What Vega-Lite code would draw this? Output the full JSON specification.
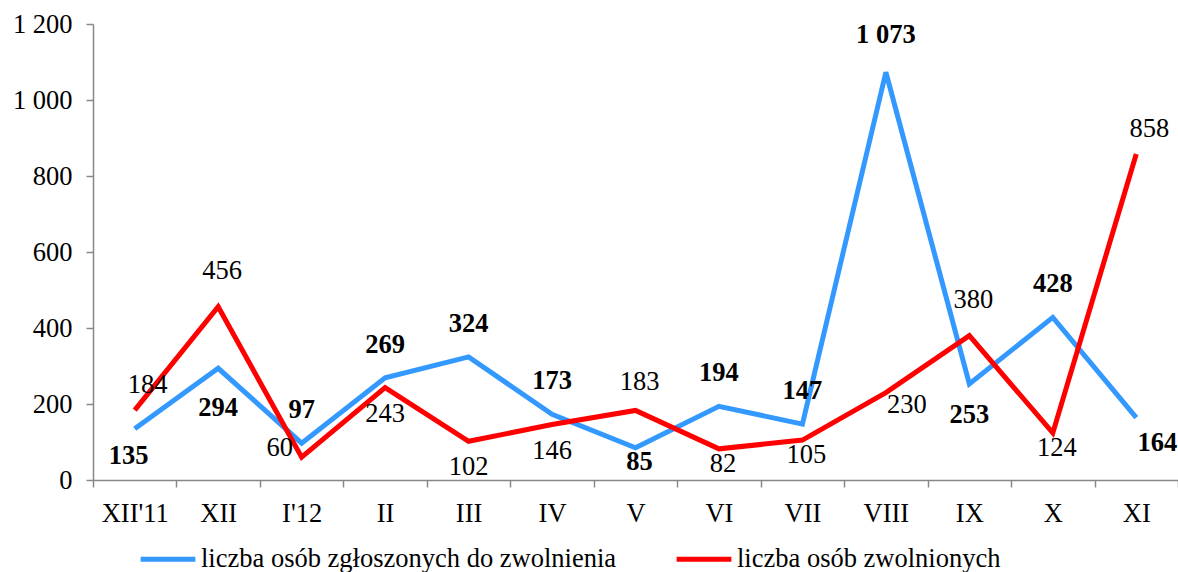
{
  "$schema": "https://vega.github.io/schema/vega-lite/v6.json",
  "width": 1085,
  "height": 456,
  "autosize": {"type": "none"},
  "padding": {"left": 93, "top": 24, "right": 0, "bottom": 92},
  "background": "white",
  "config": {
    "locale": {"number": {"decimal": ",", "thousands": " ", "grouping": [3], "currency": ["", " zł"]}},
    "font": "Liberation Serif",
    "view": {"stroke": null},
    "axis": {"labelFont": "Liberation Serif", "labelFontSize": 26.5, "labelColor": "black", "domainColor": "#888888", "tickColor": "#888888", "domainWidth": 1.5, "tickWidth": 1.5, "tickSize": 7, "grid": false, "title": null},
    "text": {"font": "Liberation Serif", "fontSize": 26.5, "color": "black"}
  },
  "data": {"values": [
    {"m": "XII'11", "s": "liczba osób zgłoszonych do zwolnienia", "v": 135},
    {"m": "XII", "s": "liczba osób zgłoszonych do zwolnienia", "v": 294},
    {"m": "I'12", "s": "liczba osób zgłoszonych do zwolnienia", "v": 97},
    {"m": "II", "s": "liczba osób zgłoszonych do zwolnienia", "v": 269},
    {"m": "III", "s": "liczba osób zgłoszonych do zwolnienia", "v": 324},
    {"m": "IV", "s": "liczba osób zgłoszonych do zwolnienia", "v": 173},
    {"m": "V", "s": "liczba osób zgłoszonych do zwolnienia", "v": 85},
    {"m": "VI", "s": "liczba osób zgłoszonych do zwolnienia", "v": 194},
    {"m": "VII", "s": "liczba osób zgłoszonych do zwolnienia", "v": 147},
    {"m": "VIII", "s": "liczba osób zgłoszonych do zwolnienia", "v": 1073},
    {"m": "IX", "s": "liczba osób zgłoszonych do zwolnienia", "v": 253},
    {"m": "X", "s": "liczba osób zgłoszonych do zwolnienia", "v": 428},
    {"m": "XI", "s": "liczba osób zgłoszonych do zwolnienia", "v": 164},
    {"m": "XII'11", "s": "liczba osób zwolnionych", "v": 184},
    {"m": "XII", "s": "liczba osób zwolnionych", "v": 456},
    {"m": "I'12", "s": "liczba osób zwolnionych", "v": 60},
    {"m": "II", "s": "liczba osób zwolnionych", "v": 243},
    {"m": "III", "s": "liczba osób zwolnionych", "v": 102},
    {"m": "IV", "s": "liczba osób zwolnionych", "v": 146},
    {"m": "V", "s": "liczba osób zwolnionych", "v": 183},
    {"m": "VI", "s": "liczba osób zwolnionych", "v": 82},
    {"m": "VII", "s": "liczba osób zwolnionych", "v": 105},
    {"m": "VIII", "s": "liczba osób zwolnionych", "v": 230},
    {"m": "IX", "s": "liczba osób zwolnionych", "v": 380},
    {"m": "X", "s": "liczba osób zwolnionych", "v": 124},
    {"m": "XI", "s": "liczba osób zwolnionych", "v": 858}
  ]},
  "encoding": {
    "x": {"field": "m", "type": "nominal",
      "sort": ["XII'11", "XII", "I'12", "II", "III", "IV", "V", "VI", "VII", "VIII", "IX", "X", "XI"],
      "scale": {"type": "band", "paddingInner": 0, "paddingOuter": 0},
      "axis": {"labelAngle": 0, "tickBand": "extent", "labelPadding": 13}},
    "y": {"field": "v", "type": "quantitative",
      "scale": {"domain": [0, 1200], "nice": false},
      "axis": {"values": [0, 200, 400, 600, 800, 1000, 1200], "format": ",d", "labelPadding": 14}},
    "text": {"field": "v", "type": "quantitative", "format": ",d"}
  },
  "layer": [
    {
      "mark": {"type": "line", "strokeWidth": 5, "strokeJoin": "miter"},
      "encoding": {
        "text": null,
        "color": {"field": "s", "type": "nominal",
          "scale": {"domain": ["liczba osób zgłoszonych do zwolnienia", "liczba osób zwolnionych"], "range": ["#3399FF", "#FF0000"]},
          "legend": {"title": null, "orient": "none", "legendX": 45, "legendY": 505, "direction": "horizontal", "columns": 2, "columnPadding": 49,
            "symbolType": "stroke", "symbolSize": 3000, "symbolStrokeWidth": 5, "labelFont": "Liberation Serif", "labelFontSize": 26.5, "labelColor": "black", "labelLimit": 700, "labelOffset": 3}}
      }
    },
    {
      "transform": [{"filter": {"and": [{"field": "s", "equal": "liczba osób zgłoszonych do zwolnienia"}, {"field": "m", "oneOf": ["I'12", "II", "III", "IV", "VI", "VII", "X"]}]}}],
      "mark": {"type": "text", "fontWeight": "bold", "dy": -33}
    },
    {
      "transform": [{"filter": {"and": [{"field": "s", "equal": "liczba osób zgłoszonych do zwolnienia"}, {"field": "m", "oneOf": ["VIII"]}]}}],
      "mark": {"type": "text", "fontWeight": "bold", "dy": -37}
    },
    {
      "transform": [{"filter": {"and": [{"field": "s", "equal": "liczba osób zgłoszonych do zwolnienia"}, {"field": "m", "oneOf": ["XII'11"]}]}}],
      "mark": {"type": "text", "fontWeight": "bold", "dy": 27, "dx": -6}
    },
    {
      "transform": [{"filter": {"and": [{"field": "s", "equal": "liczba osób zgłoszonych do zwolnienia"}, {"field": "m", "oneOf": ["XII"]}]}}],
      "mark": {"type": "text", "fontWeight": "bold", "dy": 40}
    },
    {
      "transform": [{"filter": {"and": [{"field": "s", "equal": "liczba osób zgłoszonych do zwolnienia"}, {"field": "m", "oneOf": ["IX"]}]}}],
      "mark": {"type": "text", "fontWeight": "bold", "dy": 31}
    },
    {
      "transform": [{"filter": {"and": [{"field": "s", "equal": "liczba osób zgłoszonych do zwolnienia"}, {"field": "m", "oneOf": ["V"]}]}}],
      "mark": {"type": "text", "fontWeight": "bold", "dy": 14, "dx": 4}
    },
    {
      "transform": [{"filter": {"and": [{"field": "s", "equal": "liczba osób zgłoszonych do zwolnienia"}, {"field": "m", "oneOf": ["XI"]}]}}],
      "mark": {"type": "text", "fontWeight": "bold", "dy": 25, "dx": 21}
    },
    {
      "transform": [{"filter": {"and": [{"field": "s", "equal": "liczba osób zwolnionych"}, {"field": "m", "oneOf": ["XII'11", "XI"]}]}}],
      "mark": {"type": "text", "dy": -25, "dx": 13}
    },
    {
      "transform": [{"filter": {"and": [{"field": "s", "equal": "liczba osób zwolnionych"}, {"field": "m", "oneOf": ["V"]}]}}],
      "mark": {"type": "text", "dy": -28, "dx": 4}
    },
    {
      "transform": [{"filter": {"and": [{"field": "s", "equal": "liczba osób zwolnionych"}, {"field": "m", "oneOf": ["XII", "IX"]}]}}],
      "mark": {"type": "text", "dy": -36, "dx": 4}
    },
    {
      "transform": [{"filter": {"and": [{"field": "s", "equal": "liczba osób zwolnionych"}, {"field": "m", "oneOf": ["II", "III", "IV"]}]}}],
      "mark": {"type": "text", "dy": 26}
    },
    {
      "transform": [{"filter": {"and": [{"field": "s", "equal": "liczba osób zwolnionych"}, {"field": "m", "oneOf": ["VI", "VII", "X"]}]}}],
      "mark": {"type": "text", "dy": 15, "dx": 4}
    },
    {
      "transform": [{"filter": {"and": [{"field": "s", "equal": "liczba osób zwolnionych"}, {"field": "m", "oneOf": ["VIII"]}]}}],
      "mark": {"type": "text", "dy": 12, "dx": 21}
    },
    {
      "transform": [{"filter": {"and": [{"field": "s", "equal": "liczba osób zwolnionych"}, {"field": "m", "oneOf": ["I'12"]}]}}],
      "mark": {"type": "text", "dy": -9, "dx": -22}
    }
  ]
}
